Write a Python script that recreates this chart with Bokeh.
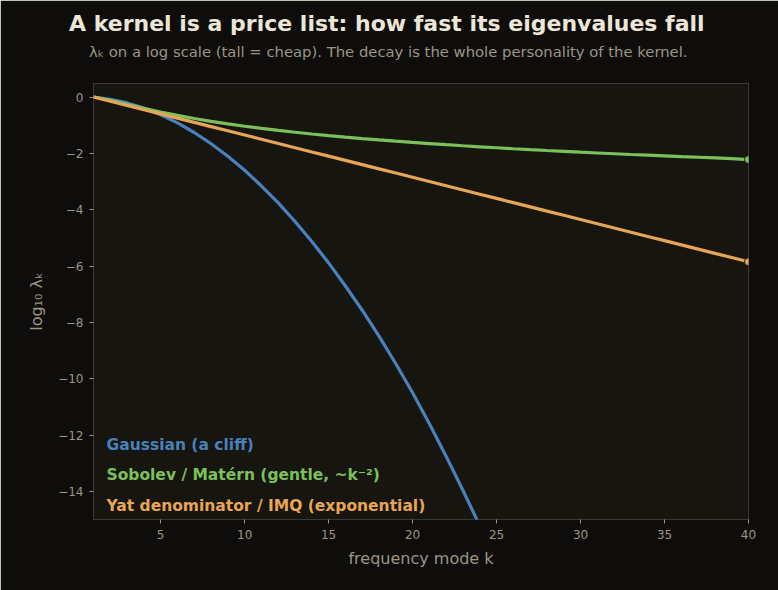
from bokeh.plotting import figure
from bokeh.models import Label, Title, SingleIntervalTicker, CustomJSTickFormatter, Range1d
from bokeh.embed import file_html
from bokeh.resources import INLINE

# frequency modes
k = list(range(1, 41))

# log10 of eigenvalue for each kernel
gauss_k = list(range(1, 26))
gauss_log = [0.0, -0.08, -0.21, -0.39, -0.63, -0.92, -1.26, -1.66, -2.10, -2.60,
             -3.16, -3.76, -4.42, -5.13, -5.89, -6.71, -7.57, -8.49, -9.47, -10.50,
             -11.60, -12.76, -13.97, -15.22, -16.52]
sobolev_log = [0.0, -0.114, -0.255, -0.398, -0.531, -0.653, -0.763, -0.863, -0.954, -1.037,
               -1.114, -1.185, -1.250, -1.312, -1.369, -1.423, -1.474, -1.522, -1.568, -1.612,
               -1.653, -1.693, -1.731, -1.767, -1.802, -1.836, -1.868, -1.899, -1.929, -1.959,
               -1.987, -2.014, -2.041, -2.066, -2.091, -2.116, -2.139, -2.162, -2.185, -2.220]
imq_log = [0.0, -0.15, -0.30, -0.45, -0.60, -0.75, -0.90, -1.05, -1.20, -1.35,
           -1.50, -1.65, -1.80, -1.95, -2.10, -2.25, -2.40, -2.55, -2.70, -2.85,
           -3.00, -3.15, -3.30, -3.45, -3.60, -3.75, -3.90, -4.05, -4.20, -4.35,
           -4.50, -4.65, -4.80, -4.95, -5.10, -5.25, -5.40, -5.55, -5.70, -5.85]

series_labels = ["Gaussian (a cliff)",
                 "Sobolev / Matérn (gentle, ~k⁻²)",
                 "Yat denominator / IMQ (exponential)"]

BG = "#0e0d0b"
PANEL = "#16150f"
TEXT = "#9b9585"
TITLE = "#ece6d6"
BLUE = "#4a80bc"
GREEN = "#7bc05a"
ORANGE = "#e8a555"
FONT = "DejaVu Sans"

p = figure(width=778, height=590, output_backend="svg", toolbar_location=None,
           x_range=Range1d(1, 40), y_range=Range1d(-15, 0.48),
           min_border_left=93, min_border_right=30, min_border_top=83, min_border_bottom=71)

p.background_fill_color = PANEL
p.border_fill_color = BG
p.outline_line_color = "#3b3932"
p.outline_line_width = 1
p.grid.visible = False

p.xaxis.ticker = SingleIntervalTicker(interval=5, num_minor_ticks=0)
p.yaxis.ticker = SingleIntervalTicker(interval=2, num_minor_ticks=0)
p.yaxis.formatter = CustomJSTickFormatter(code="return String(tick).replace('-', '\u2212');")

for ax in (p.xaxis[0], p.yaxis[0]):
    ax.axis_line_color = None
    ax.major_tick_line_color = TEXT
    ax.major_tick_out = 4
    ax.major_tick_in = 0
    ax.minor_tick_line_color = None
    ax.major_label_text_color = TEXT
    ax.major_label_text_font = FONT
    ax.major_label_text_font_size = "12px"
    ax.axis_label_text_color = TEXT
    ax.axis_label_text_font = FONT
    ax.axis_label_text_font_size = "16px"
    ax.axis_label_text_font_style = "normal"

p.xaxis.axis_label = "frequency mode k"
p.yaxis.axis_label = "log₁₀ λₖ"
p.xaxis.major_label_standoff = 6
p.yaxis.major_label_standoff = 6
p.xaxis.axis_label_standoff = 7
p.yaxis.axis_label_standoff = 9

p.line(gauss_k, gauss_log, line_color=BLUE, line_width=3.2)
p.line(k, sobolev_log, line_color=GREEN, line_width=3.2)
p.line(k, imq_log, line_color=ORANGE, line_width=3.2)

# markers on the last mode
p.scatter([k[-1]], [sobolev_log[-1]], size=8, fill_color=GREEN, line_color=PANEL, line_width=1)
p.scatter([k[-1]], [imq_log[-1]], size=8, fill_color=ORANGE, line_color=PANEL, line_width=1)

# coloured series names in the lower-left corner
for i, (txt, col) in enumerate(zip(series_labels, [BLUE, GREEN, ORANGE])):
    p.add_layout(Label(x=13, y=75 - 30.5 * i, x_units="screen", y_units="screen",
                       text=txt, text_color=col, text_font=FONT, text_font_style="bold",
                       text_font_size="15.5px", text_baseline="middle"))

# heading panels, stacked upward from the frame: blank gap, subtitle, title
gap = Title(text=" ", text_font_size="1px", standoff=21)
subtitle = Title(text="λₖ on a log scale (tall = cheap). The decay is the whole personality of the kernel.",
                 align="left", offset=-4.5, text_color=TEXT, text_font=FONT,
                 text_font_size="14.8px", text_font_style="normal", standoff=0)
title = Title(text="A kernel is a price list: how fast its eigenvalues fall",
              align="left", offset=-24.5, text_color=TITLE, text_font=FONT,
              text_font_size="22px", text_font_style="bold", standoff=9)
p.add_layout(gap, "above")
p.add_layout(subtitle, "above")
p.add_layout(title, "above")

open("out.html", "w").write(file_html(p, INLINE))
